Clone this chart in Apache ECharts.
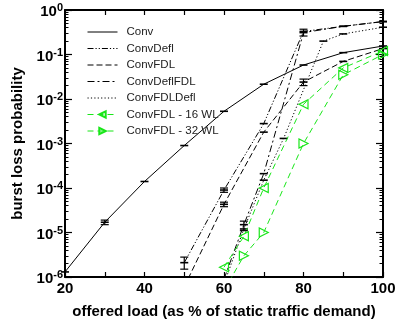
<!DOCTYPE html>
<html><head><meta charset="utf-8">
<script src="https://cdn.jsdelivr.net/npm/echarts@6/dist/echarts.min.js"></script>
<style>html,body{margin:0;padding:0;background:#fff}#c{width:404px;height:324px}</style>
</head><body><div id="c"></div>
<script>
// ---- data ----
const seriesNames = ['Conv','ConvDefl','ConvFDL','ConvDeflFDL','ConvFDLDefl','ConvFDL - 16 WL','ConvFDL - 32 WL'];
const xLabelValues = [20,40,60,80,100];
const yMajorTicks = [1e-6,1e-5,1e-4,1e-3,1e-2,1e-1,1];

const convX = [20,30,40,50,60,70,80,90,100];
const convY = [1.3e-6,1.7e-5,1.4e-4,9e-4,5.3e-3,0.0215,0.058,0.11,0.155];

const deflX = [50,60,70,80,90,100];
const deflY = [2.1e-6,9e-5,2.8e-3,0.33,0.43,0.55];

const fdlX = [50,60,70,80,90,100];
const fdlY = [6e-7,4.3e-5,1.8e-3,0.024,0.07,0.136];

const deflFdlX = [60,65,70,80,90,100];
const deflFdlY = [9e-7,1.5e-5,2.1e-4,0.31,0.43,0.55];

const fdlDeflX = [60,65,70,75,85,90,100];
const fdlDeflY = [7e-7,1.2e-5,1.5e-4,1.3e-3,0.2,0.29,0.41];

const wl16X = [60,65,70,80,90,100];
const wl16Y = [1.66e-6,8.2e-6,1e-4,7.6e-3,0.05,0.12];

const wl32X = [60,65,70,80,90,100];
const wl32Y = [5e-7,3e-6,1e-5,1e-3,0.035,0.1];

// visible error bars (x, low, high)
const errX    = [50,     60,     60,     65,     80,    80,    30];
const errLow  = [1.5e-6, 8e-5,   3.8e-5, 1.1e-5, 0.26,  0.020, 1.5e-5];
const errHigh = [2.8e-6, 1.0e-4, 4.8e-5, 1.8e-5, 0.37,  0.028, 1.9e-5];

// ---- helpers ----
const pairs = (xs, ys) => xs.map((x, i) => [x, ys[i]]);
const yMinorTicks = [];
for (let e = -6; e < 0; e++) for (let m = 2; m <= 9; m++) yMinorTicks.push(m * Math.pow(10, e));

const FONT = 'Liberation Sans, Arial, Helvetica, sans-serif';
const GREEN = '#19e619';

function blackSeries(name, data, dash) {
  return {
    name, type: 'line', data, xAxisIndex: 0, yAxisIndex: 0,
    symbol: 'rect', symbolSize: [8, 1.6],
    itemStyle: { color: '#000' },
    lineStyle: { color: '#000', width: 1, type: dash },
    clip: true, z: 3
  };
}
function greenSeries(name, data, rot) {
  return {
    name, type: 'line', data, xAxisIndex: 0, yAxisIndex: 0,
    symbol: 'triangle', symbolSize: 9, symbolRotate: rot,
    itemStyle: { color: 'rgba(255,255,255,0)', borderColor: GREEN, borderWidth: 1.2 },
    lineStyle: { color: GREEN, width: 1, type: [6, 4] },
    clip: true, z: 4
  };
}

const axisLineStyle = { lineStyle: { color: '#000', width: 2 } };
const titleStyle = { fontSize: 15, fontWeight: 'bold', color: '#000', fontFamily: FONT };

const option = {
  animation: false,
  backgroundColor: '#fff',
  textStyle: { fontFamily: FONT },
  grid: { left: 65, right: 21, top: 10, bottom: 37, containLabel: false },
  legend: {
    orient: 'vertical', left: 87, top: 26, padding: 0,
    itemWidth: 30, itemHeight: 8, itemGap: 4.5,
    lineStyle: { width: 1 },
    textStyle: { fontSize: 11.5, color: '#222', fontFamily: FONT, padding: [0, 0, 0, 4] },
    data: seriesNames.map((n, i) => i < 5 ? { name: n, itemStyle: { opacity: 0 } } : { name: n })
  },
  xAxis: [
    {
      type: 'value', min: 20, max: 100, interval: 10, position: 'bottom',
      name: 'offered load (as % of static traffic demand)', nameLocation: 'middle', nameGap: 27,
      nameTextStyle: titleStyle,
      axisLine: axisLineStyle,
      axisTick: { inside: true, length: 5, lineStyle: { color: '#000', width: 1.2 } },
      axisLabel: { fontSize: 15, fontWeight: 'bold', color: '#000', margin: 4,
        formatter: v => xLabelValues.includes(v) ? String(v) : '' },
      splitLine: { show: false }
    },
    {
      type: 'value', min: 20, max: 100, interval: 10, position: 'top',
      axisLine: axisLineStyle,
      axisTick: { inside: true, length: 5, lineStyle: { color: '#000', width: 1.2 } },
      axisLabel: { show: false }, splitLine: { show: false }
    }
  ],
  yAxis: [
    {
      type: 'log', logBase: 10, min: 1e-6, max: 1, position: 'left',
      name: 'burst loss probability', nameLocation: 'middle', nameGap: 36,
      nameTextStyle: titleStyle,
      axisLine: axisLineStyle,
      axisTick: { inside: true, length: 7, customValues: yMajorTicks, lineStyle: { color: '#000', width: 1.2 } },
      axisLabel: {
        customValues: yMajorTicks, margin: 2,
        formatter: v => '{b|10}{s|' + Math.round(Math.log10(v)) + '}',
        rich: {
          b: { fontSize: 15, fontWeight: 'bold', lineHeight: 15, color: '#000', fontFamily: FONT, padding: [4, 0, 0, 0] },
          s: { fontSize: 11, fontWeight: 'bold', lineHeight: 11, verticalAlign: 'top', color: '#000', fontFamily: FONT }
        }
      },
      splitLine: { show: false }
    },
    {
      type: 'log', logBase: 10, min: 1e-6, max: 1, position: 'right',
      axisLine: axisLineStyle,
      axisTick: { inside: true, length: 7, customValues: yMajorTicks, lineStyle: { color: '#000', width: 1.2 } },
      axisLabel: { show: false }, splitLine: { show: false }
    },
    {
      type: 'log', logBase: 10, min: 1e-6, max: 1, position: 'left',
      axisLine: { show: false },
      axisTick: { inside: true, length: 3.5, customValues: yMinorTicks, lineStyle: { color: '#000', width: 1 } },
      axisLabel: { show: false }, splitLine: { show: false }
    },
    {
      type: 'log', logBase: 10, min: 1e-6, max: 1, position: 'right',
      axisLine: { show: false },
      axisTick: { inside: true, length: 3.5, customValues: yMinorTicks, lineStyle: { color: '#000', width: 1 } },
      axisLabel: { show: false }, splitLine: { show: false }
    }
  ],
  series: [
    blackSeries(seriesNames[0], pairs(convX, convY), 'solid'),
    blackSeries(seriesNames[1], pairs(deflX, deflY), [6, 2, 1.2, 2, 1.2, 2]),
    blackSeries(seriesNames[2], pairs(fdlX, fdlY), [6, 3]),
    blackSeries(seriesNames[3], pairs(deflFdlX, deflFdlY), [7, 3, 2, 3]),
    blackSeries(seriesNames[4], pairs(fdlDeflX, fdlDeflY), [1.2, 2.2]),
    greenSeries(seriesNames[5], pairs(wl16X, wl16Y), 90),
    greenSeries(seriesNames[6], pairs(wl32X, wl32Y), -90),
    {
      type: 'custom', xAxisIndex: 0, yAxisIndex: 0, z: 5, clip: true,
      data: errX.map((x, i) => [x, errLow[i], errHigh[i]]),
      renderItem: (params, api) => {
        const lo = api.coord([api.value(0), api.value(1)]);
        const hi = api.coord([api.value(0), api.value(2)]);
        const w = 4;
        const st = { stroke: '#000', lineWidth: 1.2 };
        return { type: 'group', children: [
          { type: 'line', shape: { x1: lo[0], y1: lo[1], x2: hi[0], y2: hi[1] }, style: st },
          { type: 'line', shape: { x1: lo[0] - w, y1: lo[1], x2: lo[0] + w, y2: lo[1] }, style: st },
          { type: 'line', shape: { x1: hi[0] - w, y1: hi[1], x2: hi[0] + w, y2: hi[1] }, style: st }
        ]};
      }
    }
  ]
};

const chart = echarts.init(document.getElementById('c'), null, { renderer: 'canvas' });
chart.setOption(option);
</script>
</body></html>
